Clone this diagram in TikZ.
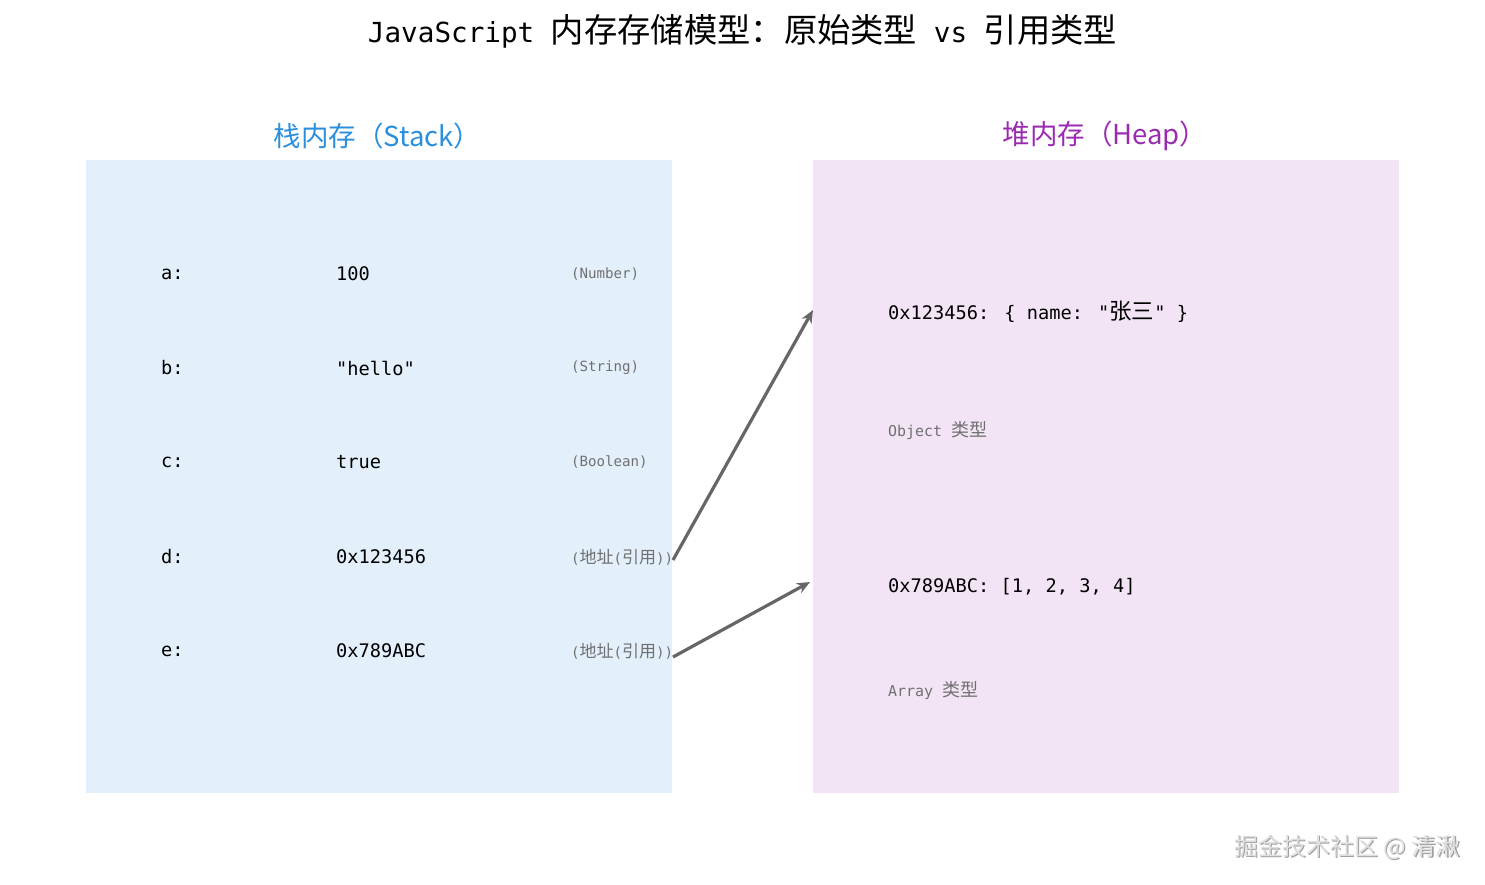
\documentclass[tikz,border=0pt]{standalone}
\usepackage{fontspec}
\setmainfont{DejaVu Sans Mono}[Scale=0.83, Ligatures=TeXOff]
\newfontfamily\cjkfont{Noto Sans CJK SC}
\newcommand{\zh}[1]{{\cjkfont #1}}
\usetikzlibrary{arrows.meta,calc}
\definecolor{stackbg}{HTML}{E3F0FB}
\definecolor{heapbg}{HTML}{F2E4F5}
\definecolor{stackblue}{HTML}{2B8FDB}
\definecolor{heappurple}{HTML}{9A2BB0}
\definecolor{typegray}{HTML}{707070}
\definecolor{arrowgray}{HTML}{666666}
\tikzset{
  region/.style={fill=#1, draw=none},
  title/.style={font=\fontsize{33.3}{36}\selectfont, text=black, inner sep=0pt},
  section/.style={font=\cjkfont\fontsize{27.5}{30}\selectfont, inner sep=0pt},
  varname/.style={anchor=west, font=\fontsize{22.5}{26}\selectfont, inner sep=0pt},
  valtext/.style={anchor=west, font=\fontsize{22.5}{26}\selectfont, inner sep=0pt},
  typetext/.style={anchor=west, font=\fontsize{17}{20}\selectfont, text=typegray, inner sep=0pt},
  heaptext/.style={anchor=west, font=\fontsize{22.5}{26}\selectfont, inner sep=0pt},
  heaptype/.style={anchor=west, font=\fontsize{18}{20}\selectfont, text=typegray, inner sep=0pt},
  refarrow/.style={draw=arrowgray, line width=3.2pt, -{Stealth[length=13pt,width=11pt]}},
  watermark/.style={font=\cjkfont\fontsize{24}{28}\selectfont, anchor=east, inner sep=0pt},
}
\begin{document}
\begin{tikzpicture}[x=1pt,y=-1pt]
\useasboundingbox (0,0) rectangle (1485,885);
% title
\node[title] (title) at (742.5,31) {JavaScript \zh{内存存储模型：原始类型} vs \zh{引用类型}};
% regions
\fill[region=stackbg] (86,160) rectangle (672,793);
\fill[region=heapbg] (813,160) rectangle (1399,793);
\node[section, text=stackblue] (stacklbl) at (377.5,136) {栈内存（Stack）};
\node[section, text=heappurple] (heaplbl) at (1105,136) {堆内存（Heap）};
% stack rows
\node[varname] (na) at (161,274) {a:};
\node[valtext] (va) at (336,274) {100};
\node[typetext] (ta) at (571,274) {(Number)};
\node[varname] (nb) at (161,368) {b:};
\node[valtext] (vb) at (336,368) {"hello"};
\node[typetext] (tb) at (571,368) {(String)};
\node[varname] (nc) at (161,462) {c:};
\node[valtext] (vc) at (336,462) {true};
\node[typetext] (tc) at (571,462) {(Boolean)};
\node[varname] (nd) at (161,557) {d:};
\node[valtext] (vd) at (336,557) {0x123456};
\node[typetext] (td) at (571,557) {(\zh{地址}(\zh{引用}))};
\node[varname] (ne) at (161,651) {e:};
\node[valtext] (ve) at (336,651) {0x789ABC};
\node[typetext] (te) at (571,651) {(\zh{地址}(\zh{引用}))};
% heap items
\node[heaptext] (obj) at (888,312) {0x123456: \{ name: "\zh{张三}" \}};
\node[heaptype] (objt) at (888,431) {Object \zh{类型}};
\node[heaptext] (arr) at (888,587) {0x789ABC: [1, 2, 3, 4]};
\node[heaptype] (arrt) at (888,690) {Array \zh{类型}};
% arrow endpoints
\coordinate (dstart) at (673,560);
\coordinate (estart) at (673,657);
\coordinate (objin) at (813,310);
\coordinate (arrin) at (810,582);
\draw[refarrow] (dstart) -- (objin);
\draw[refarrow] (estart) -- (arrin);
% watermark
\node[watermark, text=gray!75] (wmshadow) at (1461.2,848.2) {掘金技术社区 @ 清湫};
\node[watermark, text=gray!25] (wm) at (1460,847) {掘金技术社区 @ 清湫};
\end{tikzpicture}
\end{document}
